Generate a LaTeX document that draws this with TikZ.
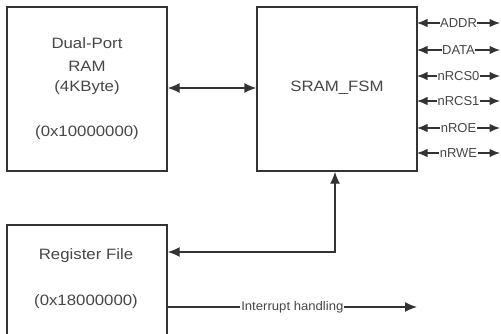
\documentclass[tikz,border=0pt]{standalone}
\usepackage{fontspec}
\setmainfont[FakeStretch=1.12]{Liberation Sans}
\newfontfamily\sigfont{Liberation Sans}
\newfontfamily\intfont[FakeStretch=1.05]{Liberation Sans}
\usetikzlibrary{arrows.meta}
\definecolor{ink}{HTML}{333333}
\definecolor{txt}{HTML}{474747}
\tikzset{
  block/.style={draw=ink, line width=1.4pt, rectangle, inner sep=0pt},
  boxtext/.style={text=txt, font=\fontsize{15}{17}\selectfont, inner sep=0pt},
  wire/.style={draw=ink, line width=1.4pt},
  bigtip/.style={-{Latex[length=12pt,width=10pt]}},
  bothbig/.style={{Latex[length=12pt,width=10pt]}-{Latex[length=12pt,width=10pt]}},
  bothsmall/.style={{Latex[length=10.5pt,width=8.5pt]}-{Latex[length=10.5pt,width=8.5pt]}},
  siglabel/.style={fill=white, text=txt, inner sep=0.5pt, font=\sigfont\fontsize{13}{15}\selectfont},
  intlabel/.style={fill=white, text=txt, inner sep=0.8pt, font=\intfont\fontsize{12.5}{14}\selectfont},
}
\begin{document}
\begin{tikzpicture}[x=1pt, y=-1pt]
  \clip (0,0) rectangle (501,333);
  \fill[white] (0,0) rectangle (501,333);

  % main blocks
  \node[block, minimum width=160pt, minimum height=164pt] (ram) at (87,89) {};
  \node[block, minimum width=160pt, minimum height=164pt] (fsm) at (337,89) {};
  \node[block, minimum width=160pt, minimum height=112pt] (reg) at (87,281) {};

  % block captions
  \node[boxtext] (ramA) at (87,43) {Dual-Port};
  \node[boxtext] (ramB) at (87,66) {RAM};
  \node[boxtext] (ramC) at (87,88) {(4KByte)};
  \node[boxtext] (ramD) at (87,133) {(0x10000000)};
  \node[boxtext] (fsmA) at (337,88) {SRAM\_FSM};
  \node[boxtext] (regA) at (86,256) {Register File};
  \node[boxtext] (regB) at (86,302) {(0x18000000)};

  % RAM <-> FSM
  \draw[wire, bothbig] (ram.east |- 0,88) -- (fsm.west |- 0,88);

  % FSM <-> register file
  \coordinate (bend) at (335,252);
  \draw[wire, bothbig] (reg.east |- bend) -- (bend) -- (fsm.south -| bend);

  % interrupt output
  \coordinate (irqend) at (417,307);
  \draw[wire, bigtip] (reg.east |- irqend) -- node[intlabel, pos=0.5] (irq) {Interrupt handling} (irqend);

  % SRAM bus signals
  \foreach \name/\yy in {ADDR/23, DATA/50, nRCS0/76, nRCS1/101, nROE/128, nRWE/153}{
    \coordinate (a\name) at (417,\yy);
    \coordinate (b\name) at (500,\yy);
    \draw[wire, line width=1.3pt, bothsmall] (a\name) -- node[siglabel] (l\name) {\name} (b\name);
  }
\end{tikzpicture}
\end{document}
